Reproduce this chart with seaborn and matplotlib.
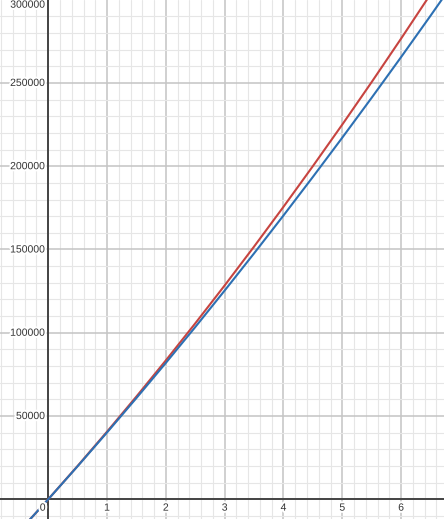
import numpy as np
import pandas as pd
import matplotlib
matplotlib.use("Agg")
import matplotlib.pyplot as plt
import matplotlib.patheffects as pe
from matplotlib.ticker import MultipleLocator
import seaborn as sns

# valores (x, y)
x_vals = [-0.8, -0.5, 0, 0.5, 1, 1.5, 2, 2.5, 3, 3.5, 4, 4.5, 5, 5.5, 6, 6.5, 7]
red_vals = [-30900, -19480, 0, 20030, 40600, 61730, 83400, 105630, 128400, 151730,
            175600, 200030, 225000, 250530, 276600, 303230, 330400]
blue_vals = [-30910, -19440, 0, 19860, 40130, 60810, 81900, 103410, 125330, 147660,
             170400, 193560, 217130, 241110, 265500, 290310, 315530]

x_labels = [1, 2, 3, 4, 5, 6]
y_labels = [50000, 100000, 150000, 200000, 250000, 300000]

df = pd.DataFrame({
    "x": x_vals * 2,
    "y": red_vals + blue_vals,
    "serie": ["rojo"] * len(x_vals) + ["azul"] * len(x_vals),
})

sns.set_style("white")
plt.rcParams['font.family'] = ['Liberation Sans', 'DejaVu Sans']

fig = plt.figure(figsize=(4.44, 5.19), dpi=100)
ax = fig.add_axes([0, 0, 1, 1])

# cuadricula estilo desmos
ax.xaxis.set_major_locator(MultipleLocator(1))
ax.xaxis.set_minor_locator(MultipleLocator(0.2))
ax.yaxis.set_major_locator(MultipleLocator(50000))
ax.yaxis.set_minor_locator(MultipleLocator(10000))
ax.grid(which='minor', color='#e6e6e6', linewidth=0.8)
ax.grid(which='major', color='#c4c4c4', linewidth=1.1)
ax.set_axisbelow(True)
ax.tick_params(which='both', length=0, labelbottom=False, labelleft=False)
for s in ax.spines.values():
    s.set_visible(False)

ax.axhline(0, color='#444444', linewidth=1.4, zorder=2)
ax.axvline(0, color='#444444', linewidth=1.4, zorder=2)

sns.lineplot(data=df, x="x", y="y", hue="serie",
             palette={"rojo": "#c74440", "azul": "#2d70b3"},
             linewidth=1.5, legend=False, ax=ax, zorder=3)

ax.set_xlim(-0.82, 6.73)
ax.set_ylim(-11830, 299800)
ax.set_xlabel("")
ax.set_ylabel("")

halo = [pe.withStroke(linewidth=3, foreground='white')]
for v in x_labels:
    ax.annotate(str(v), (v, 0), xytext=(0, -6), textcoords='offset points',
                ha='center', va='center', fontsize=7.5, color='#333333',
                path_effects=halo, zorder=4)
ax.annotate("0", (0, 0), xytext=(-4, -6), textcoords='offset points',
            ha='center', va='center', fontsize=7.5, color='#333333',
            path_effects=halo, zorder=4)
for v in y_labels:
    va = 'top' if v == 300000 else 'center'
    ax.annotate(str(v), (0, v), xytext=(-2.5, 0), textcoords='offset points',
                ha='right', va=va, fontsize=7.5, color='#333333',
                path_effects=halo, zorder=4)

plt.savefig("out.png", dpi=100)
